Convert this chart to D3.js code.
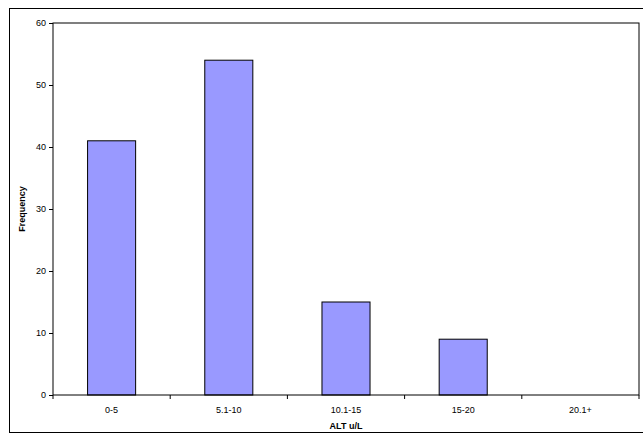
<!DOCTYPE html>
<html><head><meta charset="utf-8">
<script src="https://cdn.jsdelivr.net/npm/d3@7"></script>
<style>body{margin:0;background:#fff}svg{display:block}text{font-family:Arial,"Liberation Sans",sans-serif}</style>
</head><body><svg id="chart"></svg>
<script>
const categories = ["0-5", "5.1-10", "10.1-15", "15-20", "20.1+"];
const frequency = [41, 54, 15, 9, 0];
const yTicks = [0, 10, 20, 30, 40, 50, 60];

const W = 643, H = 435;
const margin = { top: 23, right: 4, bottom: 40, left: 53 };
const width = W - margin.left - margin.right;
const height = H - margin.top - margin.bottom;

const root = d3.select("#chart").attr("width", W).attr("height", H);
root.append("rect").attr("x", 9.5).attr("y", 8.5).attr("width", 700).attr("height", 424)
  .attr("fill", "none").attr("stroke", "#000");

const svg = root.append("g").attr("transform", `translate(${margin.left},${margin.top})`);

const x = d3.scaleBand().domain(categories).range([0, width]).paddingInner(0.59).paddingOuter(0.295);
const xTick = d3.scaleBand().domain(categories).range([0, width]);
const y = d3.scaleLinear().domain([0, 60]).range([height, 0]);

svg.selectAll("rect.bar").data(frequency).enter().append("rect")
  .attr("class", "bar")
  .attr("x", (d, i) => x(categories[i]))
  .attr("y", d => y(d))
  .attr("width", x.bandwidth())
  .attr("height", d => height - y(d))
  .attr("fill", "#9999ff").attr("stroke", "#000").attr("stroke-width", 1);

svg.append("rect").attr("x", 0).attr("y", 0).attr("width", width).attr("height", height)
  .attr("fill", "none").attr("stroke", "#000");

const yAxis = svg.append("g")
  .call(d3.axisLeft(y).tickValues(yTicks).tickSize(4).tickPadding(3));
yAxis.select(".domain").remove();
yAxis.selectAll("text").attr("font-size", 9);

const xAxis = svg.append("g").attr("transform", `translate(0,${height})`)
  .call(d3.axisBottom(xTick).tickSize(0).tickPadding(12));
xAxis.select(".domain").remove();
xAxis.selectAll("text").attr("font-size", 9);
svg.append("g").selectAll("line").data(d3.range(categories.length + 1)).enter().append("line")
  .attr("x1", i => i * xTick.step()).attr("x2", i => i * xTick.step())
  .attr("y1", height).attr("y2", height + 4).attr("stroke", "#000");

svg.append("text").attr("x", width / 2).attr("y", height + 34).attr("text-anchor", "middle")
  .attr("font-size", 9).attr("font-weight", "bold").text("ALT u/L");
svg.append("text").attr("transform", "rotate(-90)").attr("x", -height / 2).attr("y", -28)
  .attr("text-anchor", "middle").attr("font-size", 9).attr("font-weight", "bold").text("Frequency");
</script></body></html>
